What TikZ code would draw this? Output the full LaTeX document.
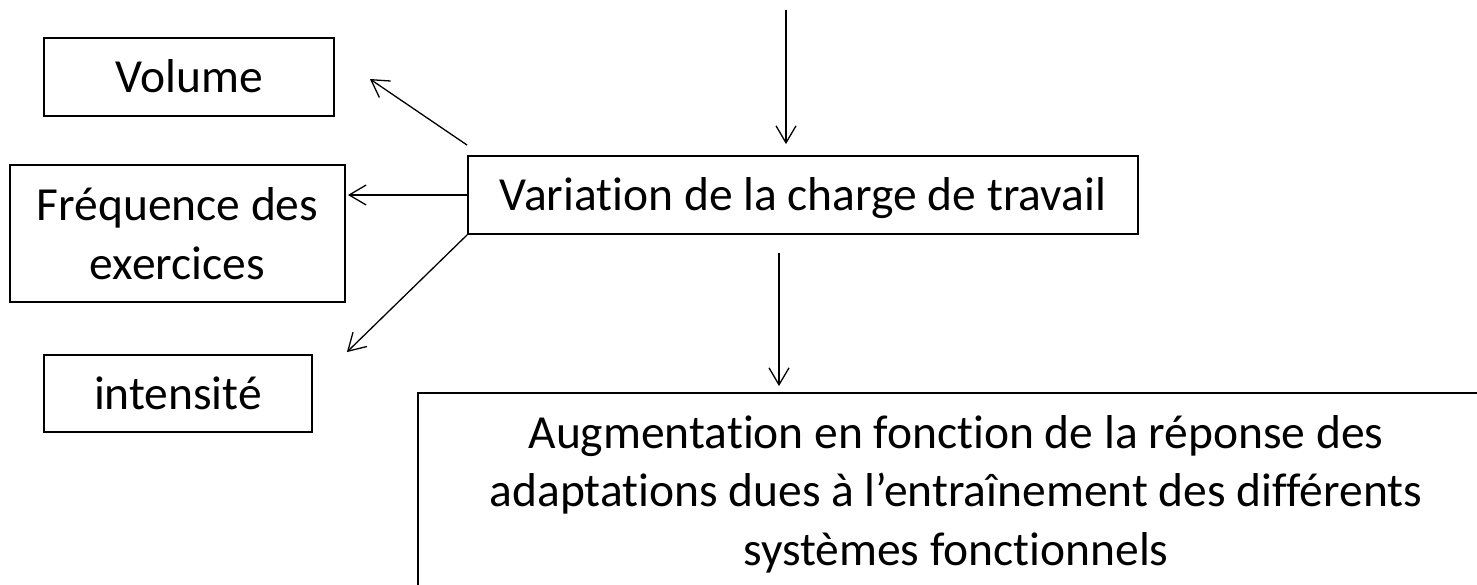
\documentclass[tikz,border=0pt]{standalone}
\usepackage{fontspec}
\setmainfont{Carlito}[Ligatures=NoCommon]
\usetikzlibrary{arrows.meta}
\begin{document}
\begin{tikzpicture}[x=1pt,y=-1pt,
  box/.style={draw, line width=1.8pt, inner sep=0pt, align=center,
    font=\fontsize{47.5}{58.5}\selectfont},
  oneline/.style={text height=32pt, text depth=0pt},
  arr/.style={line width=1.3pt, -{Straight Barb[length=17pt,width=20pt]}}]
% page area
\path[use as bounding box, clip] (0,0) rectangle (1477,585);
\fill[white] (0,0) rectangle (1477,585);

% boxes
\node[box, oneline, minimum width=290pt, minimum height=78pt] (vol) at (189,77) {Volume};
\node[box, minimum width=335pt, minimum height=137pt] (freq) at (177.5,233.5) {Fréquence des\\exercices};
\node[box, oneline, minimum width=268pt, minimum height=77pt] (int) at (178,393.5) {intensité};
\node[box, oneline, minimum width=670pt, minimum height=78pt] (var) at (803,195) {Variation de la charge de travail};
\node[box, minimum width=1076pt, minimum height=202pt] (res) at (956,494)
  {Augmentation en fonction de la réponse des\\adaptations dues à l’entraînement des différents\\systèmes fonctionnels};

% connectors
\coordinate (src) at (786,10);
\draw[arr, shorten >=11pt] (src) -- (src |- var.north);
\draw[arr, shorten <=18pt, shorten >=6pt] ([xshift=-24pt]var.south) -- ([xshift=-24pt]var.south |- res.north);
\draw[arr] ([yshift=10pt]var.north west) -- ([xshift=35pt,yshift=-2pt]vol.east);
\draw[arr, shorten >=2pt] (var.west) -- (var.west -| freq.east);
\draw[arr] (var.south west) -- ([xshift=34pt,yshift=2pt]int.north east);
\end{tikzpicture}
\end{document}
